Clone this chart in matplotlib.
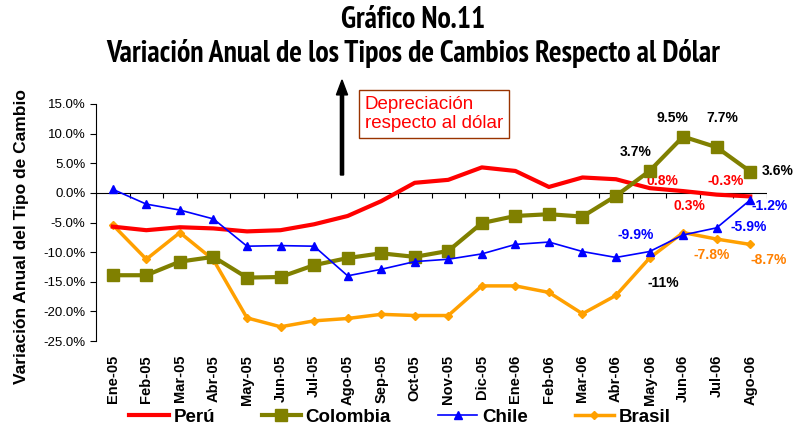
import numpy as np
import matplotlib
matplotlib.use('Agg')
import matplotlib.pyplot as plt

plt.rcParams['font.family'] = ['Liberation Sans', 'DejaVu Sans']
narrow = ['Liberation Sans Narrow', 'PT Sans Narrow', 'Liberation Sans']

meses = ["Ene-05", "Feb-05", "Mar-05", "Abr-05", "May-05", "Jun-05", "Jul-05", "Ago-05",
         "Sep-05", "Oct-05", "Nov-05", "Dic-05", "Ene-06", "Feb-06", "Mar-06", "Abr-06",
         "May-06", "Jun-06", "Jul-06", "Ago-06"]

peru = [-5.7, -6.3, -5.8, -6.0, -6.5, -6.3, -5.3, -3.9, -1.4, 1.7,
        2.2, 4.3, 3.7, 1.0, 2.6, 2.3, 0.8, 0.3, -0.3, -0.6]
colombia = [-13.9, -13.9, -11.6, -10.8, -14.3, -14.2, -12.2, -11.0, -10.2, -10.8,
            -9.8, -5.1, -3.9, -3.6, -4.0, -0.5, 3.7, 9.5, 7.7, 3.6]
chile = [0.6, -1.9, -2.9, -4.4, -9.0, -8.9, -9.0, -14.0, -12.9, -11.6,
         -11.2, -10.3, -8.7, -8.3, -9.9, -10.9, -9.9, -7.1, -5.9, -1.2]
brasil = [-5.4, -11.2, -6.7, -11.3, -21.1, -22.6, -21.6, -21.2, -20.5, -20.7,
          -20.7, -15.7, -15.7, -16.8, -20.4, -17.3, -11.0, -6.7, -7.8, -8.7]

# value labels: (text, x index, y value, colour)
etiquetas = [
    ("3.7%", 15.57, 6.9, "black"), ("9.5%", 16.67, 12.6, "black"),
    ("7.7%", 18.16, 12.6, "black"), ("3.6%", 19.83, 3.7, "black"),
    ("0.8%", 16.37, 2.0, "red"), ("-0.3%", 18.28, 2.0, "red"),
    ("0.3%", 17.2, -2.2, "red"), ("-1.2%", 19.59, -2.2, "blue"),
    ("-9.9%", 15.6, -7.1, "blue"), ("-5.9%", 18.96, -5.75, "blue"),
    ("-7.8%", 17.86, -10.5, "#FF8000"), ("-8.7%", 19.56, -11.3, "#FF8000"),
    ("-11%", 16.4, -15.2, "black"),
]

x = np.arange(len(meses))

fig = plt.figure(figsize=(7.95, 4.25), dpi=100)
ax = fig.add_axes([96/795, 1 - 341/425, (767 - 96)/795, (341 - 104)/425])

ax.plot(x, peru, color="#FF0000", lw=3, label="Perú", zorder=3)
ax.plot(x, colombia, color="#808000", lw=3, marker="s", ms=8.5, label="Colombia", zorder=4)
ax.plot(x, chile, color="#0000FF", lw=1.2, marker="^", ms=5.5, label="Chile", zorder=5)
ax.plot(x, brasil, color="#FFA000", lw=2.5, marker="D", ms=4, label="Brasil", zorder=2)

ax.set_xlim(-0.5, len(meses) - 0.5)
ax.set_ylim(-25, 15)
ax.set_yticks(np.arange(-25, 16, 5))
ax.set_yticklabels([f"{v:.1f}%" for v in np.arange(-25, 16, 5)], fontsize=9.5)
ax.tick_params(axis='y', length=4, width=0.8)

ax.set_xticks(x)
ax.set_xticklabels(meses, rotation=90, fontsize=10.5, fontweight='bold')
ax.tick_params(axis='x', length=0, pad=10)

for s in ['top', 'right', 'bottom']:
    ax.spines[s].set_visible(False)
ax.axhline(0, color='black', lw=0.8, zorder=1)
ax.vlines(np.arange(-0.5, len(meses)), -0.8, 0, color='black', lw=0.8, zorder=1)

ax.set_ylabel("Variación Anual del Tipo de Cambio", fontsize=12.5, fontweight='bold', labelpad=10)
ax.yaxis.label.set_y(0.44)

for txt, xi, yi, c in etiquetas:
    ax.text(xi, yi, txt, color=c, fontsize=10, fontweight='bold', ha='center', va='center')

fig.text(0.52, 1 - 20/425, "Gráfico No.11", ha='center', va='center', fontsize=21.5,
         fontweight='bold', family=narrow)
fig.text(0.52, 1 - 53/425, "Variación Anual de los Tipos de Cambios Respecto al Dólar",
         ha='center', va='center', fontsize=21.5, fontweight='bold', family=narrow)

fig.text(365/795, 1 - 114/425, "Depreciación\nrespecto al dólar", color='red', fontsize=13.5,
         ha='left', va='center', linespacing=1.15,
         bbox=dict(boxstyle='square,pad=0.3', fc='white', ec='#993300', lw=1))
fig.patches.append(matplotlib.patches.FancyArrow(
    342/795, 1 - 175/425, 0, (175 - 80)/425, width=0.004, head_width=0.014,
    head_length=0.035, length_includes_head=True, color='black', transform=fig.transFigure))

fig.legend(loc='center', bbox_to_anchor=(400/795, 8/425), ncol=4, frameon=False,
           prop={'weight': 'bold', 'size': 13.5}, handlelength=2.1, columnspacing=2.5,
           handletextpad=0.25)

fig.savefig("out.png", dpi=100)
